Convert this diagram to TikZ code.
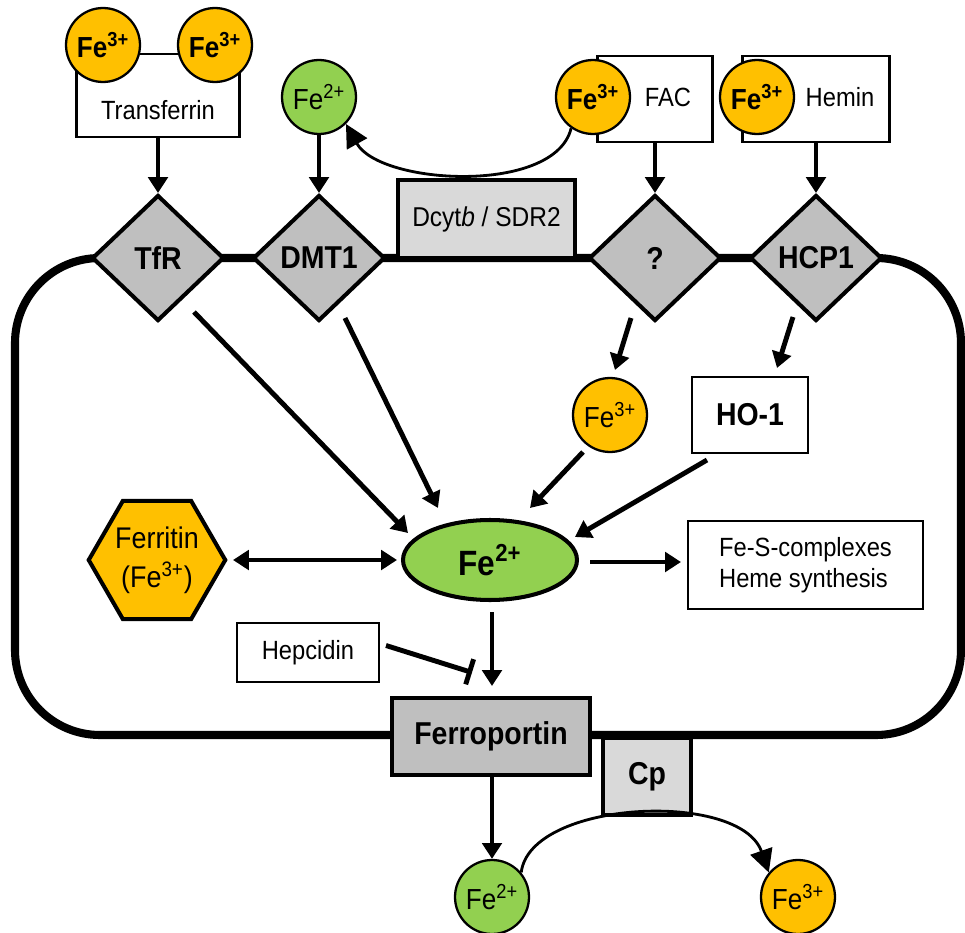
\documentclass[tikz,border=0pt]{standalone}
\usepackage{fontspec}
\setmainfont{Liberation Sans}[FakeStretch=0.9]
\usetikzlibrary{shapes.geometric,arrows.meta,calc}

\definecolor{feOrange}{HTML}{FFC000}
\definecolor{feGreen}{HTML}{92D050}
\definecolor{protGray}{HTML}{BFBFBF}
\definecolor{enzGray}{HTML}{D9D9D9}

\newcommand{\Fe}[1]{Fe\textsuperscript{#1}}

\tikzset{
	membrane/.style={line width=4.6pt, rounded corners=1.7cm},
	ion/.style={circle, draw, line width=1.3pt, minimum size=1.48cm, inner sep=0pt, font=\fontsize{16.5}{19}\selectfont},
	fethree/.style={ion, fill=feOrange},
	fetwo/.style={ion, fill=feGreen},
	carrier/.style={diamond, draw, line width=2.3pt, fill=protGray, minimum width=2.64cm, minimum height=2.52cm, inner sep=0pt, font=\bfseries\fontsize{18}{21}\selectfont},
	plainbox/.style={rectangle, draw, line width=1.2pt, fill=white, inner sep=0pt, font=\fontsize{15}{18}\selectfont},
	thickbox/.style={rectangle, draw, line width=2.3pt, inner sep=0pt, font=\bfseries\fontsize{18}{21}\selectfont},
	label15/.style={inner sep=0pt, font=\fontsize{15}{18}\selectfont},
	arr/.style={line width=2.8pt, -{Triangle[length=9pt,width=11pt]}},
	curvearr/.style={line width=1.6pt, -{Triangle[length=13pt,width=13pt]}},
}

\begin{document}
\begin{tikzpicture}[x=0.02cm, y=-0.02cm]
	\useasboundingbox (0,0) rectangle (965,933);

	\pgfmathsetmacro{\memL}{15}
	\pgfmathsetmacro{\memR}{961}
	\pgfmathsetmacro{\memT}{258}
	\pgfmathsetmacro{\memB}{735}

	\draw[membrane] (\memL,\memT) rectangle (\memR,\memB);

	\node[plainbox, minimum width=3.26cm, minimum height=1.66cm] (tfbox) at (158,95.5) {};
	\node[label15] (tflabel) at (158,110) {Transferrin};
	\node[fethree, font=\bfseries\fontsize{16.5}{19}\selectfont] (tfa) at (103,45) {\Fe{3+}};
	\node[fethree, font=\bfseries\fontsize{16.5}{19}\selectfont] (tfb) at (215,45) {\Fe{3+}};

	\node[fetwo] (fe2top) at (319,97) {\Fe{2+}};

	\node[plainbox, minimum width=2.3cm, minimum height=1.72cm] (facbox) at (655,99) {};
	\node[label15] (faclabel) at (668,97) {FAC};
	\node[fethree, font=\bfseries\fontsize{16.5}{19}\selectfont] (fe3fac) at (593,97) {\Fe{3+}};

	\node[plainbox, minimum width=2.94cm, minimum height=1.72cm] (heminbox) at (816,99) {};
	\node[label15] (heminlabel) at (840,97) {Hemin};
	\node[fethree, font=\bfseries\fontsize{16.5}{19}\selectfont] (fe3hem) at (757,97) {\Fe{3+}};

	\node[thickbox, fill=enzGray, minimum width=3.54cm, minimum height=1.56cm, font=\fontsize{15.5}{18}\selectfont] (dcytb) at (486.5,219) {Dcyt\textit{b} / SDR2};

	\node[carrier] (tfr) at (158,258) {TfR};
	\node[carrier] (dmt1) at (319,258) {DMT1};
	\node[carrier] (q) at (655,258) {?};
	\node[carrier] (hcp1) at (816,258) {HCP1};

	\draw[arr] (tfbox.south) -- (tfr.north);
	\draw[arr] (fe2top.south) -- (dmt1.north);
	\draw[arr] (facbox.south) -- (q.north);
	\draw[arr] (heminbox.south) -- (hcp1.north);
	\draw[curvearr] (fe3fac.235) .. controls (555,195) and (380,185) .. (fe2top.-45);

	\node[fethree] (fe3in) at (610,415) {\Fe{3+}};
	\node[plainbox, line width=1.6pt, minimum width=2.32cm, minimum height=1.52cm, font=\bfseries\fontsize{18}{21}\selectfont] (ho1) at (750,415) {HO-1};

	\node[ellipse, draw, line width=2.3pt, fill=feGreen, minimum width=3.48cm, minimum height=1.6cm, inner sep=0pt, font=\bfseries\fontsize{20}{24}\selectfont] (fe2) at (490,560) {\Fe{2+}};
	\node[regular polygon, regular polygon sides=6, draw, line width=2.3pt, fill=feOrange, minimum size=2.7cm, inner sep=0pt, align=center, font=\fontsize{17}{22}\selectfont] (ferritin) at (157,560) {Ferritin\\(\Fe{3+})};
	\node[plainbox, minimum width=4.7cm, minimum height=1.76cm, align=left] (fes) at (805.5,565) {Fe-S-complexes\\Heme synthesis};
	\node[plainbox, minimum width=2.84cm, minimum height=1.18cm] (hep) at (308,652.5) {Hepcidin};

	\node[thickbox, fill=protGray, minimum width=3.96cm, minimum height=1.54cm] (fpn) at (491,736.5) {Ferroportin};
	\node[thickbox, fill=enzGray, minimum width=1.76cm, minimum height=1.54cm] (cp) at (647,776.5) {Cp};

	\node[fetwo] (fe2bot) at (492,897) {\Fe{2+}};
	\node[fethree] (fe3bot) at (798,897) {\Fe{3+}};

	\draw[arr] ($(tfr)+(36,54)$) -- ($(fe2)+(-82,-27)$);
	\draw[arr] ($(dmt1)+(26,60)$) -- ($(fe2)+(-52,-52)$);
	\draw[arr] ($(q)+(-24,60)$) -- ($(fe3in)+(5,-45)$);
	\draw[arr] ($(hcp1)+(-23,59)$) -- ($(ho1)+(27,-47)$);
	\draw[arr] ($(fe3in)+(-27,37)$) -- ($(fe2)+(40,-52)$);
	\draw[arr] ($(ho1)+(-43,45)$) -- ($(fe2)+(85,-23)$);
	\draw[arr, {Triangle[length=9pt,width=11pt]}-{Triangle[length=9pt,width=11pt]}] ($(ferritin)+(76,0)$) -- ($(fe2)+(-93,0)$);
	\draw[arr] ($(fe2)+(100,2)$) -- ($(fes.west)+(-6,-3)$);
	\draw[arr] ($(fe2)+(2,52)$) -- ($(fpn.north)+(1,-10)$);
	\draw[line width=2.8pt, -{Bar[width=15pt]}] ($(hep)+(78,-7)$) -- ($(fpn)+(-19,-64)$);
	\draw[arr] (fpn.south -| fe2bot) -- (fe2bot.north);
	\draw[curvearr] (fe2bot.40) .. controls (530,800) and (740,790) .. (fe3bot.140);
\end{tikzpicture}
\end{document}
